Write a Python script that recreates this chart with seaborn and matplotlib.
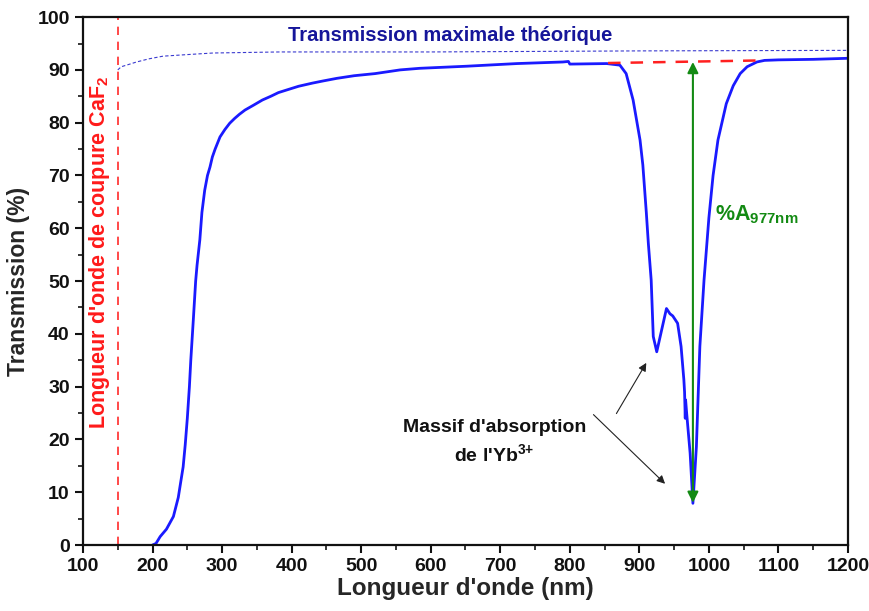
import numpy as np
import pandas as pd
import matplotlib
matplotlib.use('Agg')
import matplotlib.pyplot as plt
import seaborn as sns

# --- donnees ---
wl = [200, 205, 211, 220, 230, 237, 240, 244, 247, 250, 253, 255, 258.6, 262, 264,
      268, 271, 275, 279, 282.6, 286, 290, 297, 304, 311, 318, 325, 333, 345, 358,
      370, 381, 393, 410, 430, 445, 465, 490, 520, 556, 584, 652, 724, 790,
      798, 800, 853, 872, 881, 886, 891, 901, 905, 910, 913, 917, 920, 925, 932, 939, 944,
      948, 955, 960, 964, 965, 966, 966.5, 968, 973, 977, 982, 987, 993, 1000,
      1006, 1013, 1025, 1035, 1045, 1055, 1069, 1080, 1100, 1150, 1200]
trans = [0, 0.3, 1.6, 3.0, 5.4, 9, 11.5, 14.8, 19, 24, 30, 35, 42.6, 50, 53,
         57.8, 63, 67.2, 70, 71.6, 73.5, 75, 77.3, 78.7, 79.9, 80.8, 81.6, 82.4, 83.3, 84.3,
         85, 85.7, 86.2, 86.9, 87.5, 87.9, 88.4, 88.9, 89.3, 90.0, 90.3, 90.7, 91.2, 91.5,
         91.6, 91.1, 91.2, 90.9, 89.3, 86.8, 84.3, 76.7, 72, 63, 57, 50.2, 39.5, 36.6, 40.7, 44.8, 43.8,
         43.4, 42, 37.6, 31.3, 29, 24, 27.5, 25, 17.4, 7.9, 18.6, 37.6, 50.2, 62,
         70, 76.7, 83.6, 87, 89.3, 90.6, 91.5, 91.8, 91.9, 92.0, 92.2]

# transmission maximale theorique (pointilles)
wl_max = [150, 155, 165, 177, 195, 215, 250, 287, 383, 600, 900, 1200]
t_max = [90, 90.6, 91.0, 91.5, 92.1, 92.6, 92.9, 93.2, 93.4, 93.4, 93.6, 93.7]

# ligne de base (pointilles rouges)
wl_base = [855, 1078]
t_base = [91.3, 91.8]

cutoff_caf2 = 150
peak_wl = 977
peak_top = 91.5
peak_min = 8.0

df = pd.DataFrame({'wl': wl, 'T': trans})
df_max = pd.DataFrame({'wl': wl_max, 'T': t_max})
df_base = pd.DataFrame({'wl': wl_base, 'T': t_base})

sns.set_theme(style='ticks')
plt.rcParams['font.family'] = ['Liberation Sans', 'DejaVu Sans']
plt.rcParams['font.weight'] = 'bold'
plt.rcParams['mathtext.fontset'] = 'custom'
plt.rcParams['mathtext.rm'] = 'Liberation Sans:bold'
plt.rcParams['mathtext.bf'] = 'Liberation Sans:bold'
plt.rcParams['mathtext.it'] = 'Liberation Sans:bold'

fig = plt.figure(figsize=(8.7, 6.11), dpi=100)
ax = fig.add_axes([0.0954, 0.108, 0.8793, 0.864])

ax.axvline(cutoff_caf2, color='#ff2a2a', ls=(0, (5, 4)), lw=1.2)
sns.lineplot(data=df_max, x='wl', y='T', ax=ax, color='#3a3ad0', lw=0.8,
             ls=(0, (3, 2)), sort=False)
sns.lineplot(data=df, x='wl', y='T', ax=ax, color='#1a1aff', lw=2, sort=False)
sns.lineplot(data=df_base, x='wl', y='T', ax=ax, color='#ff2020', lw=1.8,
             ls=(0, (5, 4)), sort=False)

# fleche %A
ax.annotate('', xy=(peak_wl, peak_min), xytext=(peak_wl, peak_top),
            arrowprops=dict(arrowstyle='<|-|>', color='#138a13', lw=1.5,
                            mutation_scale=16, shrinkA=0, shrinkB=0))
ax.text(1009, 62.5, '%A$_{977nm}$', color='#138a13', fontsize=15.5,
        fontweight='bold', ha='left', va='center')

ax.text(628, 96.6, 'Transmission maximale théorique', color='#16169a',
        fontsize=14.5, fontweight='bold', ha='center', va='center')
ax.text(124, 55.5, "Longueur d'onde de coupure CaF$_2$", color='#ff1a1a',
        fontsize=15.5, fontweight='bold', rotation=90, ha='center', va='center')

ax.text(692, 19.5, "Massif d'absorption\nde l'Yb$^{3{+}}$", color='#111111',
        fontsize=14, fontweight='bold', ha='center', va='center',
        linespacing=1.4)
ax.annotate('', xy=(910, 34.5), xytext=(867, 24.9),
            arrowprops=dict(arrowstyle='-|>', color='#222222', lw=0.8,
                            mutation_scale=12, shrinkA=0, shrinkB=0))
ax.annotate('', xy=(937, 11.6), xytext=(834, 24.7),
            arrowprops=dict(arrowstyle='-|>', color='#222222', lw=0.8,
                            mutation_scale=12, shrinkA=0, shrinkB=0))

ax.set_xlim(100, 1200)
ax.set_ylim(0, 100)
ax.set_xticks(np.arange(100, 1201, 100))
ax.set_xticks(np.arange(150, 1200, 100), minor=True)
ax.set_yticks(np.arange(0, 101, 10))
ax.set_yticks(np.arange(5, 100, 10), minor=True)
ax.tick_params(which='major', direction='out', length=6, width=1.5,
               labelsize=14, colors='#111111')
ax.tick_params(which='minor', direction='out', length=3.5, width=1.3)
for lab in ax.get_xticklabels() + ax.get_yticklabels():
    lab.set_fontweight('bold')
for sp in ax.spines.values():
    sp.set_linewidth(1.6)
    sp.set_color('#111111')

ax.set_xlabel("Longueur d'onde (nm)", fontsize=17.5, fontweight='bold', labelpad=1)
ax.set_ylabel('Transmission (%)', fontsize=16.5, fontweight='bold', labelpad=5)

fig.savefig('out.png', dpi=100)
